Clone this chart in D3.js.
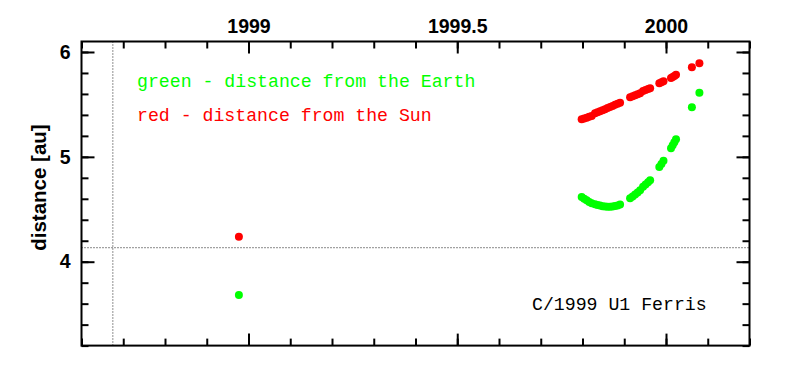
<!DOCTYPE html>
<html>
<head>
<meta charset="utf-8">
<script src="https://cdn.jsdelivr.net/npm/d3@7"></script>
<style>
  body { margin: 0; background: #fff; }
  svg { display: block; }
  .tick text { font-family: "Liberation Sans", Arial, sans-serif; font-weight: bold; font-size: 19.5px; }
</style>
</head>
<body>
<div id="chart"></div>
<script>
var width = 790;
var height = 373;

// observation epochs (decimal year)
var dates = [1998.977,
  1999.798, 1999.804, 1999.810, 1999.816, 1999.822,
  1999.830, 1999.836, 1999.842, 1999.848, 1999.854, 1999.860, 1999.866, 1999.872, 1999.878, 1999.884, 1999.890,
  1999.914, 1999.920, 1999.926, 1999.932, 1999.938,
  1999.945, 1999.951, 1999.957, 1999.962,
  1999.984, 1999.989, 1999.994,
  2000.012, 2000.016, 2000.020, 2000.024,
  2000.062, 2000.080];

// distance from the Sun [au]
var sunDist = [4.239,
  5.358, 5.366, 5.374, 5.382, 5.390,
  5.415, 5.425, 5.435, 5.445, 5.455, 5.466, 5.476, 5.486, 5.496, 5.507, 5.517,
  5.568, 5.578, 5.587, 5.597, 5.606,
  5.627, 5.637, 5.647, 5.654,
  5.702, 5.712, 5.722,
  5.752, 5.762, 5.772, 5.782,
  5.854, 5.892];

// distance from the Earth [au]
var earthDist = [3.682,
  4.618, 4.600, 4.585, 4.570, 4.558,
  4.548, 4.541, 4.535, 4.530, 4.527, 4.525, 4.525, 4.527, 4.531, 4.537, 4.545,
  4.605, 4.622, 4.641, 4.661, 4.682,
  4.714, 4.736, 4.758, 4.778,
  4.902, 4.932, 4.962,
  5.082, 5.110, 5.139, 5.168,
  5.473, 5.612];

var xMajor = [1999, 1999.5, 2000];
var yMajor = [4, 5, 6];
var refDate = 1998.675;   // vertical dotted line
var refDist = 4.134;      // horizontal dotted line

var svg = d3.select("#chart")
  .append("svg")
  .attr("width", width)
  .attr("height", height);

var x = d3.scaleLinear().domain([1998.6, 2000.2]).range([81.5, 749.5]);
var y = d3.scaleLinear().domain([3.2, 6.1]).range([345.6, 41.5]);

var top0 = y.range()[1], bot0 = y.range()[0];
var left0 = x.range()[0], right0 = x.range()[1];

// reference lines
svg.append("line")
  .attr("x1", x(refDate)).attr("x2", x(refDate))
  .attr("y1", top0).attr("y2", bot0)
  .style("stroke", "#444").style("stroke-width", 1.2)
  .style("stroke-dasharray", "1,2");
svg.append("line")
  .attr("x1", left0).attr("x2", right0)
  .attr("y1", y(refDist)).attr("y2", y(refDist))
  .style("stroke", "#444").style("stroke-width", 1.2)
  .style("stroke-dasharray", "1,2");

// axes: minor + major ticks on all four sides, pointing inwards
function ticks(axis, tr) {
  var g = svg.append("g").attr("transform", tr).call(axis);
  g.select(".domain").remove();
  g.selectAll(".tick line").style("stroke", "#000").style("stroke-width", 2);
  return g;
}
var xMinor = x.ticks(16), yMinor = y.ticks(15);

ticks(d3.axisTop(x).tickValues(xMinor).tickSize(-7).tickFormat(""), "translate(0," + top0 + ")");
ticks(d3.axisTop(x).tickValues(xMajor).tickSize(-12).tickPadding(9).tickFormat(d3.format("")), "translate(0," + top0 + ")");
ticks(d3.axisBottom(x).tickValues(xMinor).tickSize(-7).tickFormat(""), "translate(0," + bot0 + ")");
ticks(d3.axisBottom(x).tickValues(xMajor).tickSize(-12).tickFormat(""), "translate(0," + bot0 + ")");
ticks(d3.axisLeft(y).tickValues(yMinor).tickSize(-7).tickFormat(""), "translate(" + left0 + ",0)");
ticks(d3.axisLeft(y).tickValues(yMajor).tickSize(-13).tickPadding(11).tickFormat(d3.format("d")), "translate(" + left0 + ",0)");
ticks(d3.axisRight(y).tickValues(yMinor).tickSize(-7).tickFormat(""), "translate(" + right0 + ",0)");
ticks(d3.axisRight(y).tickValues(yMajor).tickSize(-13).tickFormat(""), "translate(" + right0 + ",0)");

svg.selectAll(".tick text").style("fill", "#000");

// frame
svg.append("rect")
  .attr("x", left0).attr("y", top0)
  .attr("width", right0 - left0).attr("height", bot0 - top0)
  .style("fill", "none").style("stroke", "#000").style("stroke-width", 2);

// axis title
svg.append("text")
  .attr("transform", "translate(46," + ((top0 + bot0) / 2 - 6) + ") rotate(-90)")
  .attr("text-anchor", "middle")
  .style("font-family", "Liberation Sans, Arial, sans-serif")
  .style("font-weight", "bold")
  .style("font-size", "20.5px")
  .text("distance [au]");

// points
svg.selectAll("circle.sun")
  .data(dates)
  .enter()
  .append("circle")
  .attr("class", "sun")
  .attr("cx", function(d) { return x(d); })
  .attr("cy", function(d, i) { return y(sunDist[i]); })
  .attr("r", 4)
  .style("fill", "#ff0000");

svg.selectAll("circle.earth")
  .data(dates)
  .enter()
  .append("circle")
  .attr("class", "earth")
  .attr("cx", function(d) { return x(d); })
  .attr("cy", function(d, i) { return y(earthDist[i]); })
  .attr("r", 4)
  .style("fill", "#00ff00");

// labels
var mono = "Liberation Mono, Courier New, monospace";
svg.append("text").attr("x", 137).attr("y", 87)
  .style("font-family", mono).style("font-size", "18.2px").style("fill", "#00ff00")
  .text("green - distance from the Earth");
svg.append("text").attr("x", 137).attr("y", 121)
  .style("font-family", mono).style("font-size", "18.2px").style("fill", "#ff0000")
  .text("red - distance from the Sun");
svg.append("text").attr("x", 532).attr("y", 310)
  .style("font-family", mono).style("font-size", "18.2px").style("fill", "#000")
  .text("C/1999 U1 Ferris");
</script>
</body>
</html>
